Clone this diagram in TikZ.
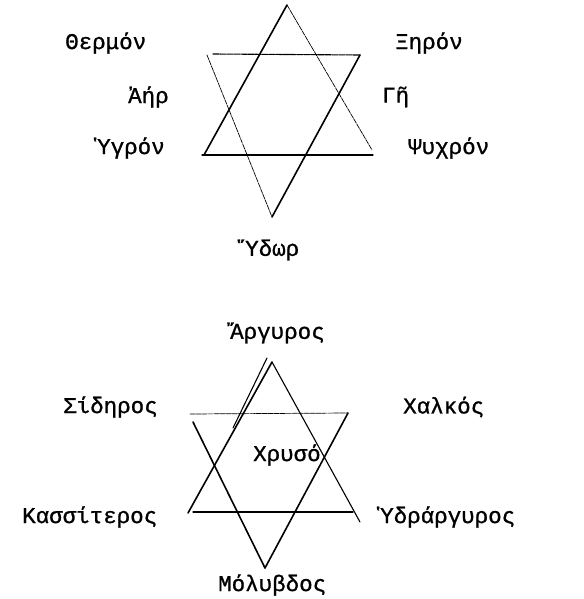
\documentclass[tikz,border=0pt]{standalone}
\usepackage{fontspec}
\newfontfamily\twfont[FakeBold=1]{Liberation Mono}
\begin{document}
\begin{tikzpicture}[x=1pt,y=-1pt,
  lbl/.style={anchor=west,inner sep=0pt,font=\twfont\fontsize{22.5}{24}\selectfont},
  thickline/.style={line width=1.6pt,line cap=round},
  midline/.style={line width=1.1pt,line cap=round},
  thinline/.style={line width=0.7pt,dash pattern=on 5pt off 1pt,line cap=round}]
\useasboundingbox (0,0) rectangle (583,599);
% ---- top star ----
\coordinate (ua) at (287,5);
\coordinate (ul) at (204,155);
\coordinate (ur) at (372,150);
\coordinate (ubl) at (202,155);
\coordinate (ubr) at (373,155);
\coordinate (dl) at (207,55);
\coordinate (dr) at (360,55);
\coordinate (dtl) at (213,54);
\coordinate (db) at (272,217);
\draw[thickline] (ua) -- (ul);
\draw[thinline] (ua) -- (ur);
\draw[midline] (ubl) -- (ubr);
\draw[midline,dash pattern=on 6pt off 1pt] (dtl) -- (dr);
\draw[thinline] (dl) -- (db);
\draw[thickline] (dr) -- (db);
% ---- bottom star ----
\coordinate (Ua) at (272,362);
\coordinate (Ua2) at (267,358);
\coordinate (Um) at (233,428);
\coordinate (Ul) at (188,513);
\coordinate (Ur) at (360,522);
\coordinate (Ubl) at (193,512);
\coordinate (Ubr) at (353,512);
\coordinate (Dl) at (193,422);
\coordinate (Dtl) at (190,414);
\coordinate (Dr) at (348,413);
\coordinate (Db) at (265,568);
\draw[thickline] (Ua) -- (Ul);
\draw[midline] (Ua2) -- (Um);
\draw[midline] (Ua) -- (Ur);
\draw[midline] (Ubl) -- (Ubr);
\draw[thinline] (Dtl) -- (Dr);
\draw[thickline] (Dl) -- (Db);
\draw[thickline] (Dr) -- (Db);
% ---- labels top ----
\node[lbl] (thermon) at (65,43) {Θερμόν};
\node[lbl] (xeron) at (395,43) {Ξηρόν};
\node[lbl] (aer) at (128,97) {Ἀήρ};
\node[lbl] (ge) at (382,97) {Γῆ};
\node[lbl] (hygron) at (97,148) {Ὑγρόν};
\node[lbl] (psychron) at (408,148) {Ψυχρόν};
\node[lbl] (hydor) at (245,250) {Ὕδωρ};
% ---- labels bottom ----
\node[lbl] (argyros) at (230,333) {Ἄργυρος};
\node[lbl] (sideros) at (63,407) {Σίδηρος};
\node[lbl] (chalkos) at (403,407) {Χαλκός};
\node[lbl] (chrysos) at (253,455) {Χρυσό};
\node[lbl] (kassiteros) at (22,517) {Κασσίτερος};
\node[lbl] (hydrargyros) at (380,517) {Ὑδράργυρος};
\node[lbl] (molybdos) at (218,585) {Μόλυβδος};
\end{tikzpicture}
\end{document}
